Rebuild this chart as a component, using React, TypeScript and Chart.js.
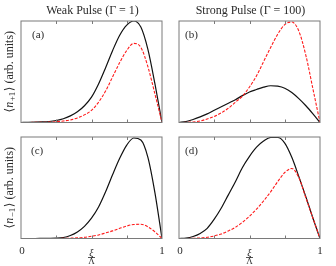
import React, { useEffect, useRef } from "react";
import { Chart, registerables } from "chart.js";
Chart.register(...registerables);

// ξ/Λ sample grid
const XI = [0, 0.05, 0.1, 0.15, 0.2, 0.25, 0.3, 0.35, 0.4, 0.45, 0.5, 0.55, 0.6, 0.65, 0.7, 0.75, 0.8, 0.85, 0.9, 0.95, 1];

// (a) <n+1>, weak pulse
const A_BLACK = [0, 0.001, 0.003, 0.006, 0.01, 0.02, 0.037, 0.065, 0.105, 0.165, 0.25, 0.38, 0.54, 0.71, 0.86, 0.96, 1.0, 0.94, 0.72, 0.38, 0];
const A_RED = [0, 0.0005, 0.001, 0.002, 0.004, 0.008, 0.015, 0.025, 0.045, 0.075, 0.12, 0.2, 0.31, 0.45, 0.59, 0.71, 0.78, 0.74, 0.55, 0.28, 0];
// (b) <n+1>, strong pulse
const B_BLACK = [0, 0.01, 0.03, 0.055, 0.085, 0.12, 0.155, 0.19, 0.225, 0.265, 0.3, 0.325, 0.348, 0.362, 0.358, 0.338, 0.295, 0.235, 0.165, 0.085, 0];
const B_RED = [0, 0.001, 0.005, 0.015, 0.035, 0.06, 0.095, 0.14, 0.2, 0.26, 0.35, 0.46, 0.6, 0.74, 0.87, 0.965, 0.99, 0.9, 0.66, 0.33, 0];
// (c) <n-1>, weak pulse
const C_BLACK = [0, 0, 0, 0.0005, 0.001, 0.003, 0.01, 0.03, 0.065, 0.12, 0.2, 0.31, 0.46, 0.63, 0.79, 0.92, 0.99, 0.97, 0.8, 0.45, 0];
const C_RED = [0, 0, 0, 0, 0, 0.0005, 0.001, 0.003, 0.006, 0.012, 0.022, 0.035, 0.055, 0.075, 0.1, 0.123, 0.138, 0.14, 0.115, 0.065, 0];
// (d) <n-1>, strong pulse
const D_BLACK = [0, 0.004, 0.02, 0.05, 0.1, 0.19, 0.3, 0.43, 0.56, 0.7, 0.81, 0.9, 0.96, 0.995, 0.995, 0.94, 0.8, 0.61, 0.41, 0.2, 0];
const D_RED = [0, 0, 0.002, 0.005, 0.012, 0.025, 0.045, 0.075, 0.11, 0.16, 0.22, 0.29, 0.37, 0.46, 0.56, 0.65, 0.69, 0.6, 0.4, 0.2, 0];

const TITLES = ["Weak Pulse (Γ = 1)", "Strong Pulse (Γ = 100)"];
const Y_LABELS = [
  { sub: "+1", rest: "⟩ (arb. units)" },
  { sub: "−1", rest: "⟩ (arb. units)" },
];
const PANEL_LABELS = ["(a)", "(b)", "(c)", "(d)"];
const X_TICK_VALUES = [0, 0.5, 1];
const X_TICK_LABELS = ["0", "ξ/Λ", "1"];
const MINOR_TICKS = [0.25, 0.5, 0.75];

const W = 336;
const H = 266;
const SERIF = "'Liberation Serif', 'DejaVu Serif', serif";

type Panel = {
  left: number; top: number; right: number; bottom: number;
  black: number[]; red: number[]; label: string; lx: number; ly: number;
  title: number | null; ylabel: number | null; xticks: boolean;
};

const PANELS: Panel[] = [
  { left: 21, top: 21, right: 162, bottom: 122.5, black: A_BLACK, red: A_RED, label: PANEL_LABELS[0], lx: 11, ly: 14, title: 0, ylabel: 0, xticks: false },
  { left: 179, top: 21, right: 320, bottom: 122.5, black: B_BLACK, red: B_RED, label: PANEL_LABELS[1], lx: 6, ly: 14, title: 1, ylabel: null, xticks: false },
  { left: 21, top: 137, right: 162, bottom: 238.5, black: C_BLACK, red: C_RED, label: PANEL_LABELS[2], lx: 10, ly: 14, title: null, ylabel: 1, xticks: true },
  { left: 179, top: 137, right: 320, bottom: 238.5, black: D_BLACK, red: D_RED, label: PANEL_LABELS[3], lx: 6, ly: 14, title: null, ylabel: null, xticks: true },
];

const decorPlugin = {
  id: "decor",
  afterDraw(chart: any) {
    const p: Panel = chart.options.plugins.decor.panel;
    const ctx = chart.ctx;
    const xs = chart.scales.x;
    const ys = chart.scales.y;
    const L = xs.getPixelForValue(0), R = xs.getPixelForValue(1);
    const T = ys.getPixelForValue(1), B = ys.getPixelForValue(0);
    ctx.save();
    // frame
    ctx.strokeStyle = "#7a7a7a";
    ctx.lineWidth = 1;
    ctx.strokeRect(L, T, R - L, B - T);
    // inner ticks
    ctx.beginPath();
    for (const v of MINOR_TICKS) {
      const px = Math.round(xs.getPixelForValue(v)) + 0.5;
      ctx.moveTo(px, T); ctx.lineTo(px, T + 3);
      ctx.moveTo(px, B); ctx.lineTo(px, B - 3);
    }
    ctx.stroke();
    ctx.fillStyle = "#2a2a2a";
    // panel label
    ctx.font = `11px ${SERIF}`;
    ctx.textAlign = "left";
    ctx.textBaseline = "middle";
    ctx.fillText(p.label, L + p.lx, T + p.ly);
    // title
    if (p.title !== null) {
      ctx.font = `12px ${SERIF}`;
      ctx.textAlign = "center";
      ctx.fillText(TITLES[p.title], (L + R) / 2 + 1, 11);
    }
    // y label
    if (p.ylabel !== null) {
      const yl = Y_LABELS[p.ylabel];
      ctx.translate(10, (T + B) / 2);
      ctx.rotate(-Math.PI / 2);
      ctx.textAlign = "left";
      ctx.textBaseline = "middle";
      const fMain = `12px ${SERIF}`;
      const fIt = `italic 12px ${SERIF}`;
      const fSub = `9px ${SERIF}`;
      ctx.font = fMain; const w1 = ctx.measureText("⟨").width;
      ctx.font = fIt; const w2 = ctx.measureText("n").width;
      ctx.font = fSub; const w3 = ctx.measureText(yl.sub).width;
      ctx.font = fMain; const w4 = ctx.measureText(yl.rest).width;
      let x = -(w1 + w2 + w3 + w4 + 1) / 2;
      ctx.font = fMain; ctx.fillText("⟨", x, 0); x += w1;
      ctx.font = fIt; ctx.fillText("n", x, 0); x += w2 + 0.5;
      ctx.font = fSub; ctx.fillText(yl.sub, x, 2.5); x += w3 + 0.5;
      ctx.font = fMain; ctx.fillText(yl.rest, x, 0);
      ctx.setTransform(1, 0, 0, 1, 0, 0);
    }
    // x tick labels
    if (p.xticks) {
      ctx.textAlign = "center";
      ctx.textBaseline = "middle";
      X_TICK_VALUES.forEach((v, i) => {
        const px = xs.getPixelForValue(v) + (v === 0 ? 1 : 0);
        const lab = X_TICK_LABELS[i];
        if (lab.includes("/")) {
          const [num, den] = lab.split("/");
          ctx.font = `italic 10px ${SERIF}`;
          ctx.fillText(num, px, B + 15);
          ctx.fillRect(px - 3.5, B + 18.7, 7, 0.8);
          ctx.font = `9px ${SERIF}`;
          ctx.fillText(den, px, B + 23);
        } else {
          ctx.font = `11px ${SERIF}`;
          ctx.fillText(lab, px, B + 12.5);
        }
      });
    }
    ctx.restore();
  },
};

function PanelChart({ panel }: { panel: Panel }) {
  const ref = useRef<HTMLCanvasElement>(null);
  useEffect(() => {
    const canvas = ref.current!;
    const chart = new Chart(canvas, {
      type: "line",
      data: {
        datasets: [
          {
            data: XI.map((x, i) => ({ x, y: panel.black[i] })),
            borderColor: "#111",
            borderWidth: 1.2,
            pointRadius: 0,
            cubicInterpolationMode: "monotone",
            order: 2,
          },
          {
            data: XI.map((x, i) => ({ x, y: panel.red[i] })),
            borderColor: "#ff1a1a",
            borderWidth: 1.1,
            borderDash: [3, 1.5],
            pointRadius: 0,
            cubicInterpolationMode: "monotone",
            order: 1,
          },
        ],
      },
      options: {
        animation: false,
        responsive: false,
        devicePixelRatio: 1,
        layout: {
          padding: { left: panel.left, top: panel.top, right: W - panel.right, bottom: H - panel.bottom },
        },
        scales: {
          x: { type: "linear", min: 0, max: 1, display: false },
          y: { type: "linear", min: 0, max: 1, display: false },
        },
        plugins: {
          legend: { display: false },
          tooltip: { enabled: false },
          decor: { panel },
        } as any,
        events: [],
      },
      plugins: [decorPlugin],
    } as any);
    return () => chart.destroy();
  }, [panel]);
  return (
    <canvas
      ref={ref}
      width={W}
      height={H}
      style={{ position: "absolute", left: 0, top: 0, width: W, height: H }}
    />
  );
}

export default function App() {
  return (
    <div style={{ position: "fixed", left: 0, top: 0, width: W, height: H, background: "#fff" }}>
      {PANELS.map((p, i) => (
        <PanelChart key={i} panel={p} />
      ))}
    </div>
  );
}
